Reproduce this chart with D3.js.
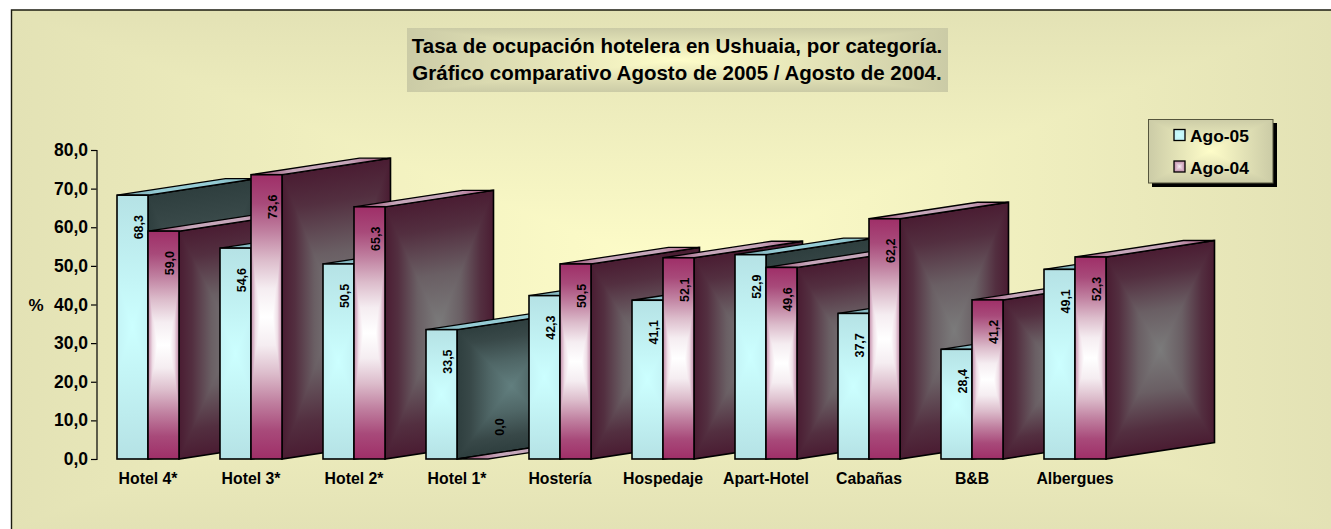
<!DOCTYPE html>
<html><head><meta charset="utf-8">
<script src="https://cdn.jsdelivr.net/npm/d3@7/dist/d3.min.js"></script>
<style>
html,body{margin:0;padding:0;background:#fff;overflow:hidden}
svg{display:block}
text{font-family:"Liberation Sans",Arial,sans-serif;font-weight:bold;fill:#000}
</style></head><body>
<script>
const categories=["Hotel 4*","Hotel 3*","Hotel 2*","Hotel 1*","Hostería","Hospedaje","Apart-Hotel","Cabañas","B&B","Albergues"];
const seriesNames=["Ago-05","Ago-04"];
const ago05=[68.3,54.6,50.5,33.5,42.3,41.1,52.9,37.7,28.4,49.1];
const ago04=[59.0,73.6,65.3,0.0,50.5,52.1,49.6,62.2,41.2,52.3];
const yTicks=[0,10,20,30,40,50,60,70,80];
const titleLines=["Tasa de ocupación hotelera en Ushuaia, por categoría.","Gráfico comparativo Agosto de 2005 / Agosto de 2004."];

const W=1331,H=529;
const svg=d3.select("body").append("svg").attr("width",W).attr("height",H);
const defs=svg.append("defs");
function grad(id,dir,stops){
  const g=defs.append("linearGradient").attr("id",id)
    .attr("x1",0).attr("y1",0).attr("x2",dir==="h"?1:0).attr("y2",dir==="h"?0:1);
  stops.forEach(([o,c])=>g.append("stop").attr("offset",o).attr("stop-color",c));
}
const mirror=stops=>stops.concat(stops.slice(0,-1).reverse().map(([o,c])=>[1-o,c]));
function pathGrad(id,stops,stopsH){ // symmetric: edge -> centre -> edge, both axes
  grad(id+"V","v",mirror(stops)); grad(id+"H","h",mirror(stopsH||stops));
}
pathGrad("bg",[[0,"#e3e2b5"],[0.5,"#fefdc9"]]);
pathGrad("title",[[0,"#cbcba6"],[0.5,"#fefdc9"]]);
pathGrad("legend",[[0,"#cbcba6"],[0.5,"#fefdc9"]]);
pathGrad("cyan",[[0,"#b5e2e5"],[0.5,"#ccffff"]],[[0,"#c4f4f6"],[0.5,"#ccffff"]]);
pathGrad("pink",[[0,"#9f2f68"],[0.1,"#a84a7a"],[0.2,"#c080a0"],[0.3,"#dcbccb"],[0.4,"#f5edf1"],[0.5,"#ffffff"]],
                [[0,"#c28aa8"],[0.15,"#f0e0e8"],[0.3,"#ffffff"],[0.5,"#ffffff"]]);
pathGrad("swCyan",[[0,"#c0f0f4"],[0.5,"#ccffff"]]);
pathGrad("swPink",[[0,"#bd86a4"],[0.5,"#f6ecf1"]]);
pathGrad("sidePink",[[0,"#4a1c32"],[0.12,"#532f40"],[0.3,"#6a5f64"],[0.5,"#7b7b7b"]]);
pathGrad("sideTeal",[[0,"#2e3e3e"],[0.12,"#384848"],[0.3,"#4f6666"],[0.5,"#627f7f"]]);
grad("topPink","h",[[0,"#8f3a63"],[0.3,"#c6a6ba"],[0.7,"#c6a6ba"],[1,"#a34d7a"]]);
grad("topTeal","h",[[0,"#6f9ea6"],[0.3,"#95cbd4"],[0.7,"#95cbd4"],[1,"#7fb5bd"]]);

function pathRect(parent,x,y,w,h,id,transform){
  const g=parent.append("g").style("isolation","isolate");
  if(transform) g.attr("transform",transform);
  g.append("rect").attr("x",x).attr("y",y).attr("width",w).attr("height",h).attr("fill",`url(#${id}H)`);
  g.append("rect").attr("x",x).attr("y",y).attr("width",w).attr("height",h).attr("fill",`url(#${id}V)`).style("mix-blend-mode","darken");
  return g;
}

// background
pathRect(svg,11,10,W-11,H-10,"bg");
svg.append("path").attr("d",`M11.5,${H}V10H${W}`).attr("fill","none").attr("stroke","#1c1c10").attr("stroke-width",1.4);

// title
pathRect(svg,407,28,541,64,"title");
svg.append("g").selectAll("text").data(titleLines).join("text")
  .attr("x",677).attr("y",(d,i)=>53+i*27).attr("text-anchor","middle").attr("font-size",20.5).text(d=>d);

// scales
const y=d3.scaleLinear().domain([0,80]).range([459,150]);
const x=d3.scaleBand().domain(categories).range([96.5,1126.5]);
const barW=31;
const xs=d3.scaleBand().domain(seriesNames).range([x.bandwidth()/2-barW,x.bandwidth()/2+barW]);
const depthX=108.5,depthY=16.5;
const values={"Ago-05":ago05,"Ago-04":ago04};
const style={"Ago-05":{front:"cyan",side:"sideTeal",top:"topTeal",swatch:"swCyan"},"Ago-04":{front:"pink",side:"sidePink",top:"topPink",swatch:"swPink"}};
const line=d3.line();
const BW=1.6;

// bars, painted left to right
const plot=svg.append("g");
categories.forEach((c,i)=>{
  seriesNames.forEach(s=>{
    const v=values[s][i], st=style[s];
    const x0=x(c)+xs(s), x1=x0+xs.bandwidth(), yt=y(v), yb=y(0), h=yb-yt;
    const g=plot.append("g");
    if(h>0){
      pathRect(g,0,0,depthX,h,st.side,`translate(${x1},${yt}) matrix(1,${-depthY/depthX},0,1,0,0)`);
      g.append("path").attr("d",line([[x1,yt],[x1+depthX,yt-depthY],[x1+depthX,yb-depthY],[x1,yb]])+"Z")
        .attr("fill","none").attr("stroke","#000").attr("stroke-width",BW).attr("stroke-linejoin","miter");
    }
    g.append("path").attr("d",line([[x0,yt],[x0+depthX,yt-depthY],[x1+depthX,yt-depthY],[x1,yt]])+"Z")
      .attr("fill",`url(#${st.top})`).attr("stroke","#000").attr("stroke-width",1.3);
    if(h>0){
      pathRect(g,x0,yt,barW,h,st.front);
      g.append("rect").attr("x",x0).attr("y",yt).attr("width",barW).attr("height",h)
        .attr("fill","none").attr("stroke","#000").attr("stroke-width",BW);
    }
  });
});

// value labels
const labels=svg.append("g");
categories.forEach((c,i)=>{
  seriesNames.forEach(s=>{
    const v=values[s][i];
    const cx=x(c)+xs(s)+barW/2;
    const lx=v===0?cx+31:cx+10.5, ly=v===0?y(0)-32:y(v)+32;
    labels.append("text").attr("transform",`translate(${lx},${ly}) rotate(-90)`)
      .attr("text-anchor","middle").attr("font-size",12.5).text(d3.format(".1f")(v).replace(".",","));
  });
});

// axes
const yAxis=d3.axisLeft(y).tickValues(yTicks).tickSize(5.5).tickPadding(3)
  .tickFormat(d=>d3.format(".1f")(d).replace(".",","));
const ya=svg.append("g").attr("transform","translate(96.5,0)").call(yAxis);
ya.attr("font-family",null).attr("font-size",null);
ya.selectAll("text").attr("font-size",17.5).style("fill","#000");
ya.selectAll("line,path").attr("stroke","#000").attr("stroke-width",1.2);
const xAxis=d3.axisBottom(x).tickSize(0).tickPadding(14);
const xa=svg.append("g").attr("transform","translate(0,459)").call(xAxis);
xa.select(".domain").remove();
xa.attr("font-family",null);
xa.selectAll("text").attr("font-size",15.8).style("fill","#000");
svg.append("text").attr("x",36).attr("y",311).attr("text-anchor","middle").attr("font-size",17).text("%");

// legend
svg.append("rect").attr("x",1152).attr("y",123).attr("width",125).attr("height",64).attr("fill","#000");
pathRect(svg,1148,119,125,64,"legend");
svg.append("rect").attr("x",1148.5).attr("y",119.5).attr("width",124.5).attr("height",63.5).attr("fill","none").attr("stroke","#55553c").attr("stroke-width",1);
seriesNames.forEach((s,i)=>{
  const ty=129.5+i*31.5;
  pathRect(svg,1174,ty,11,11,style[s].swatch);
  svg.append("rect").attr("x",1174).attr("y",ty).attr("width",11).attr("height",11).attr("fill","none").attr("stroke","#000").attr("stroke-width",1.3);
  svg.append("text").attr("x",1190).attr("y",ty+12.5).attr("font-size",17.4).text(s);
});
</script>
</body></html>
